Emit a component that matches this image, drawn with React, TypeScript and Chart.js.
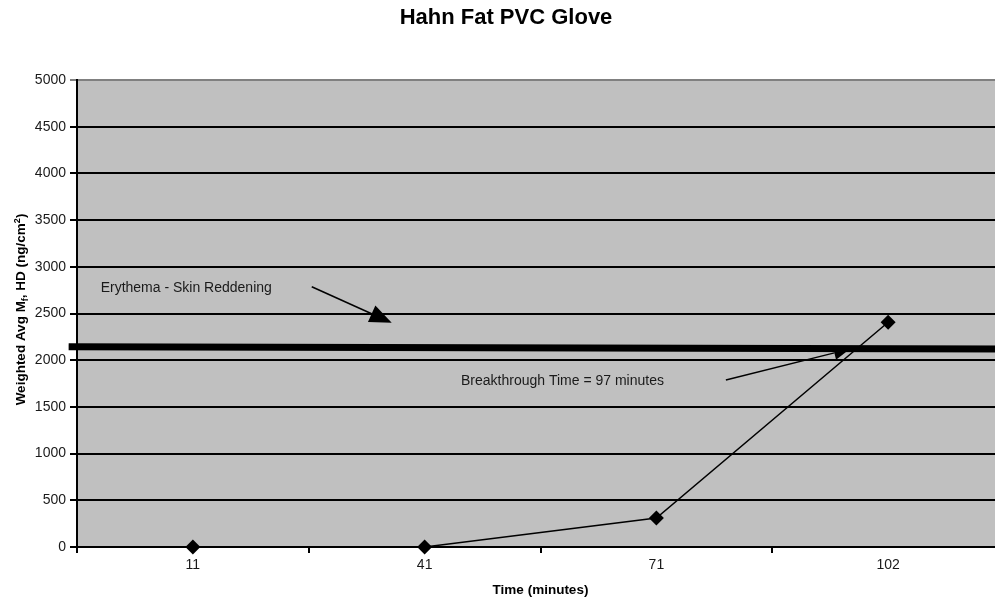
import React, { useEffect, useRef } from "react";
import { Chart, registerables } from "chart.js";

Chart.register(...registerables);

const TITLE = "Hahn Fat PVC Glove";
const categories = ["11", "41", "71", "102"];
const values = [0, 0, 310, 2406];
const yTicks = [0, 500, 1000, 1500, 2000, 2500, 3000, 3500, 4000, 4500, 5000];

// Annotations in data coordinates (x = category index, y = value)
const thresholdLine = { x0: -0.536, y0: 2145, x1: 3.5, y1: 2120 };
const erythemaText = { text: "Erythema - Skin Reddening", x: -0.398, y: 2773 };
const erythemaArrow = { x0: 0.513, y0: 2787, x1: 0.858, y1: 2401 };
const breakText = { text: "Breakthrough Time = 97 minutes", x: 1.157, y: 1777 };
const breakArrow = { x0: 2.3, y0: 1788, x1: 2.835, y1: 2120 };

const FONT = "'Liberation Sans', Arial, sans-serif";

function drawArrow(ctx: CanvasRenderingContext2D, x0: number, y0: number, x1: number, y1: number, len: number, wid: number) {
  const ang = Math.atan2(y1 - y0, x1 - x0);
  const bx = x1 - len * Math.cos(ang);
  const by = y1 - len * Math.sin(ang);
  ctx.beginPath();
  ctx.moveTo(x0, y0);
  ctx.lineTo(bx, by);
  ctx.strokeStyle = "#000";
  ctx.lineWidth = 1.5;
  ctx.stroke();
  ctx.beginPath();
  ctx.moveTo(x1, y1);
  ctx.lineTo(bx + (wid / 2) * Math.sin(ang), by - (wid / 2) * Math.cos(ang));
  ctx.lineTo(bx - (wid / 2) * Math.sin(ang), by + (wid / 2) * Math.cos(ang));
  ctx.closePath();
  ctx.fillStyle = "#000";
  ctx.fill();
}

const plotPlugin = {
  id: "plotDecor",
  beforeDraw(chart: any) {
    const { ctx, chartArea } = chart;
    ctx.save();
    ctx.fillStyle = "#C0C0C0";
    ctx.fillRect(chartArea.left, chartArea.top, chartArea.right - chartArea.left, chartArea.bottom - chartArea.top);
    ctx.restore();
  },
  beforeDatasetsDraw(chart: any) {
    const { ctx } = chart;
    const xs = chart.scales.x;
    const ys = chart.scales.y;
    ctx.save();
    ctx.beginPath();
    ctx.moveTo(xs.getPixelForValue(thresholdLine.x0), ys.getPixelForValue(thresholdLine.y0));
    ctx.lineTo(xs.getPixelForValue(thresholdLine.x1), ys.getPixelForValue(thresholdLine.y1));
    ctx.strokeStyle = "#000";
    ctx.lineWidth = 7;
    ctx.stroke();
    ctx.restore();
  },
  afterDraw(chart: any) {
    const { ctx } = chart;
    const xs = chart.scales.x;
    const ys = chart.scales.y;
    const px = (v: number) => xs.getPixelForValue(v);
    const py = (v: number) => ys.getPixelForValue(v);
    ctx.save();
    ctx.fillStyle = "#1a1a1a";
    ctx.font = `14px ${FONT}`;
    ctx.textBaseline = "middle";
    ctx.textAlign = "left";
    ctx.fillText(erythemaText.text, px(erythemaText.x), py(erythemaText.y));
    ctx.fillText(breakText.text, px(breakText.x), py(breakText.y));
    drawArrow(ctx, px(erythemaArrow.x0), py(erythemaArrow.y0), px(erythemaArrow.x1), py(erythemaArrow.y1), 22, 18);
    drawArrow(ctx, px(breakArrow.x0), py(breakArrow.y0), px(breakArrow.x1), py(breakArrow.y1), 16, 14);

    // y axis title with subscript / superscript
    const parts: [string, number, number][] = [
      ["Weighted Avg M", 13.5, 0],
      ["f", 9, 3],
      [", HD (ng/cm", 13.5, 0],
      ["2", 9, -5],
      [")", 13.5, 0],
    ];
    let total = 0;
    for (const [t, s] of parts) {
      ctx.font = `bold ${s}px ${FONT}`;
      total += ctx.measureText(t).width;
    }
    ctx.translate(20, (chart.chartArea.top + chart.chartArea.bottom) / 2 - 4);
    ctx.rotate(-Math.PI / 2);
    ctx.fillStyle = "#000";
    ctx.textAlign = "left";
    ctx.textBaseline = "alphabetic";
    let x = -total / 2;
    for (const [t, s, dy] of parts) {
      ctx.font = `bold ${s}px ${FONT}`;
      ctx.fillText(t, x, 5 + dy);
      x += ctx.measureText(t).width;
    }
    ctx.restore();
  },
};

export default function App() {
  const ref = useRef<HTMLCanvasElement | null>(null);
  useEffect(() => {
    if (!ref.current) return;
    const chart = new Chart(ref.current, {
      type: "line",
      data: {
        labels: categories,
        datasets: [
          {
            data: values,
            borderColor: "#000",
            backgroundColor: "#000",
            borderWidth: 1.5,
            pointStyle: "rectRot",
            pointRadius: 7.5,
            pointBorderWidth: 0,
            pointBackgroundColor: "#000",
            tension: 0,
            clip: false as any,
          },
        ],
      },
      options: {
        animation: false,
        responsive: false,
        maintainAspectRatio: false,
        layout: { padding: { left: 8, right: 8, top: 0, bottom: 0 } },
        plugins: {
          legend: { display: false },
          tooltip: { enabled: false },
          title: {
            display: true,
            text: TITLE,
            color: "#000",
            font: { family: FONT, size: 22, weight: "bold" },
            padding: { top: 5, bottom: 48.6 },
          },
        },
        scales: {
          x: {
            type: "category",
            offset: true,
            afterFit: (s: any) => {
              s.height = 57;
            },
            grid: {
              display: true,
              offset: true,
              drawOnChartArea: false,
              drawTicks: true,
              tickLength: 6,
              color: "#000",
              lineWidth: 2,
            },
            border: { display: true, color: "#000", width: 2 },
            ticks: {
              color: "#1a1a1a",
              font: { family: FONT, size: 14 },
              padding: 4,
              maxRotation: 0,
            },
            title: {
              display: true,
              text: "Time (minutes)",
              color: "#000",
              font: { family: FONT, size: 13.5, weight: "bold" },
              padding: { top: 0, bottom: 6 },
            },
          },
          y: {
            type: "linear",
            min: 0,
            max: 5000,
            afterFit: (s: any) => {
              s.width = 69;
            },
            afterBuildTicks: (s: any) => {
              s.ticks = yTicks.map((v) => ({ value: v }));
            },
            grid: {
              display: true,
              drawOnChartArea: true,
              drawTicks: true,
              tickLength: 7,
              color: (c: any) => (c.tick && c.tick.value === 5000 ? "#808080" : "#000"),
              lineWidth: 2,
            },
            border: { display: true, color: "#000", width: 2 },
            ticks: {
              color: "#1a1a1a",
              font: { family: FONT, size: 14 },
              padding: 4,
              callback: (v: any) => String(v),
            },
            title: { display: false },
          },
        },
      },
      plugins: [plotPlugin],
    });
    return () => chart.destroy();
  }, []);
  return (
    <div style={{ position: "absolute", left: 0, top: 0, width: 995, height: 604, overflow: "hidden", background: "#fff" }}>
      <canvas ref={ref} width={1012} height={604} style={{ display: "block", width: 1012, height: 604 }} />
    </div>
  );
}
